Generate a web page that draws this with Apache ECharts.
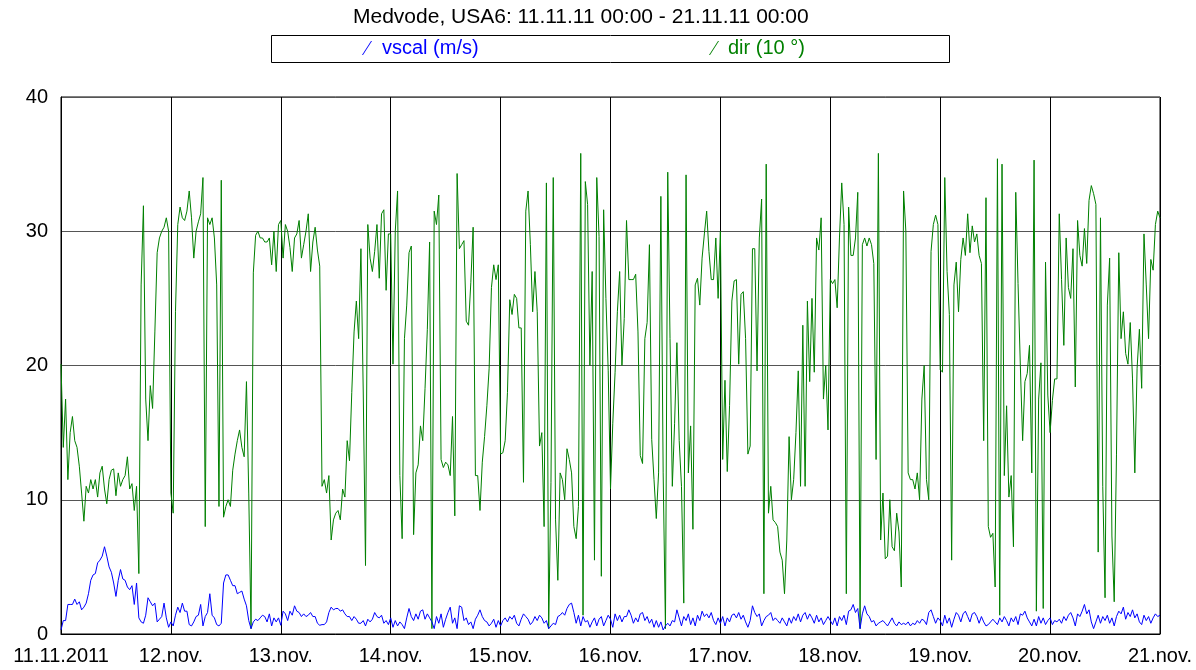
<!DOCTYPE html>
<html>
<head>
<meta charset="utf-8">
<script src="https://cdn.jsdelivr.net/npm/echarts@6/dist/echarts.min.js"></script>
<style>
html,body{margin:0;padding:0;background:#fff;}
#chart{width:1196px;height:670px;}
</style>
</head>
<body>
<div id="chart"></div>
<script>
// Tick labels (one per day boundary)
const dayLabels = ['11.11.2011','12.nov.','13.nov.','14.nov.','15.nov.','16.nov.','17.nov.','18.nov.','19.nov.','20.nov.','21.nov.'];
const titleText = 'Medvode, USA6: 11.11.11 00:00 - 21.11.11 00:00';
const seriesNames = ['vscal (m/s)', 'dir (10 °)'];
const stepHours = 0.5; // sampling step of the arrays below

// dir (10 °), every 30 minutes from 11.11.2011 00:00
const dir = [
 // 11.11
 20.1,13.9,17.5,11.5,15,16.2,14.4,13.9,12.5,10.5,8.4,11,10.5,11.5,10.8,11.5,10.2,12,12.5,10.8,9.7,11.5,12.2,12.3,
 10.3,12,11,11.5,11.8,13.2,10.8,11.2,9.2,11,4.5,26,31.9,17.5,14.4,18.5,16.8,22.5,28.4,29.5,30,30.3,31,30,
 // 12.11
 10.5,9,24,30.5,31.8,31,30.8,31.5,33,31,28,30,30.7,31.3,34,8,31,30.5,31,29.5,26,9.5,33.8,8.7,
 9.5,10,9.5,12.2,13.4,14.4,15.2,13.9,13.2,18.8,10.5,0.4,26.9,29.7,30,29.5,29.5,29.2,29.2,29.5,27.5,30,27,30.5,
 // 13.11
 30.8,28,30.5,30,28.8,27,29.5,29.8,30.8,28,29,30,31.3,27,29.2,30.3,28.6,27.4,11,11.5,10.5,11.8,7,8.5,
 9,9.2,8.5,10.8,10.2,14.4,12.9,18,22.5,24.8,22,28.7,18.1,5.1,30.5,28,27,28.5,30.5,26.5,31.3,31.6,25.6,29.8,
 // 14.11
 29.8,20.1,30,33,11.8,7.1,22,24.5,28.4,28.9,7.4,12,12.6,15.5,14.4,18.3,22.7,29.2,0.4,31.5,30.5,32.7,13,12.4,
 12.8,12.6,11.8,16.2,8.8,34.3,28.7,29,29.3,23.3,23,26.2,30.3,11.8,11.8,9.2,12.8,14.7,17,19.8,25.8,27.5,26.4,27.5,
 // 15.11
 13.4,13.5,14.4,18,24.9,23.8,25.3,25,22.8,22.8,11.3,31.5,33,29,24,27,24,14,15,8,33.6,0.4,11.3,34,
 8.5,4,12,11.5,10,13.8,13,12,8,7.1,9.5,35.8,1.4,33.7,32,20,27,5.5,34,29.6,4.3,31.6,25,19.6,
 // 16.11
 10.8,15.7,19.5,24,27,20,23.5,30.8,26.4,26.4,26.4,26.8,22.5,13.3,12.7,22,23.2,29,14.5,11.5,8.6,12,32.6,12,
 0.4,34.4,22,11,15.7,21.7,14.4,11,2.3,34.2,12,15.5,7.8,26,26.5,24.5,28,29.8,31.5,28.5,26.4,26.4,29.5,25,
 // 17.11
 30,13,18.9,12.1,17,24.8,26.3,26.4,20.1,25.3,25.5,22,13.4,14,28.7,28.7,19.6,29.5,32.4,3,35,9,11,8.5,
 8.3,8,6.1,5.5,3,7,14.7,10,11.5,15,19.6,11,23,11,24.8,18.8,25,19.5,29.5,28.6,31,17.5,20,15.2,
 // 18.11
 26.4,26.1,26.4,24.3,29.5,33.6,30.5,3,31.8,28.2,28.2,29.5,32.9,0.4,29,29.5,28.9,29.5,29,27.6,13,35.8,7,10.5,
 5.6,5.8,10,6.5,6.2,9,7.6,3.5,33,30,12,11.5,11.5,10.8,12,10,17.5,20,11.5,10,28.5,30.5,31.2,30.5,
 // 19.11
 19.7,19.5,34,27,23.8,5.5,26,27.7,24,27.9,29.5,28.2,31.3,28.4,30.4,29.2,29.8,28.2,27.6,14.4,32.5,8,7.2,7.5,
 3.5,35.4,1.4,35,11.8,17,10.2,11.8,6.5,32.9,26.1,20,14.4,18.8,19.4,21.5,12,35.3,1.7,17.5,20.2,1.9,27.7,17.8,
 // 20.11
 15,17.4,19,19,31.3,26.4,21.5,29.5,25.8,25,28.7,18.4,30.8,28.2,27.4,30.2,27.6,32.3,33.4,32.8,32,6.1,31,11,
 2.7,24.5,28,7.3,2.4,13.4,28.4,22,24,20.9,20.1,23.2,19,12,19.8,22.7,18.3,29.8,26,22,27.9,27.1,30.5,31.5,
 // 21.11 00:00
 31
];

// vscal (m/s), every 30 minutes from 11.11.2011 00:00
const vscal = [
 // 11.11
 0.3,1,1,2.2,2.2,2.2,2.6,2.2,2.4,1.8,2,2.3,3,4,4.4,4.5,5.3,5.5,5.8,6.5,5.8,5,4.6,3.8,
 2.8,4,4.8,4.1,4,3.5,3.3,3.6,2.2,3.8,1.2,0.9,0.8,1.4,2.7,2.4,2.1,2.3,0.9,1.1,1.3,2.3,1.2,0.5,
 // 12.11
 0.9,0.6,1.4,2,1.6,2.3,1.7,1.7,0.7,0.6,0.9,1.3,1.4,2.2,0.6,1.3,1.6,3,1.4,1.2,0.7,0.6,0.8,3.8,
 4.4,4.4,4,3.6,3.6,3,3.1,3.2,2.6,2.1,1,0.4,0.9,1.1,1,1.2,1.4,1.3,0.9,1.5,0.6,1.2,0.9,1.2,
 // 13.11
 0.65,1.7,1.5,1,1.7,1.4,2.1,1.7,1.6,1.3,1.5,1.3,1.4,1.6,1.3,1.3,0.8,0.65,0.7,0.7,0.9,1.6,2,1.8,
 1.9,1.9,1.7,1.8,1.5,1.3,1.3,1,1.3,1.1,0.8,0.8,1,0.6,1.1,0.9,1.1,1.6,1.3,1.2,1.4,0.8,1,0.7,
 // 14.11
 1.2,0.5,1,0.6,0.9,0.7,0.4,1.2,1.9,1.3,1,1.5,1.1,1.7,1.8,1.1,1.5,1.2,0.9,0.4,1.3,0.8,1.5,0.5,
 1.1,1.6,2,0.8,1.2,0.4,2.1,2,1,1.2,0.7,0.9,0.4,1.1,1.4,1.8,1.3,1,0.9,0.6,0.8,1.1,0.5,1,
 // 15.11
 0.6,1,1.2,0.9,1.3,1.1,1.4,0.8,0.6,1.1,1.5,1.3,1.1,0.7,0.9,1.3,1,1.4,1.2,0.8,1,0.4,0.6,0.8,
 0.7,1.3,1.4,1.6,1.4,1.9,2.2,2.3,1.6,0.8,1.4,0.6,1.3,0.9,1,0.5,0.9,1.2,0.6,1.1,1.3,0.6,1,1.4,
 // 16.11
 1.1,0.5,1.5,1,1.4,0.9,1.3,1.3,1.8,1.4,0.8,1.2,0.9,1.5,1.6,1,1.3,0.8,1.1,0.5,1,0.5,0.9,0.3,
 0.6,0.8,0.6,1,0.9,1.8,1.2,0.6,1.3,1,1.5,0.7,1.2,0.6,1.4,1,1.7,1.3,1.5,1.2,1.6,1,0.7,1.2,
 // 17.11
 0.8,1.3,0.6,1.2,0.9,1.4,1.5,1.2,1.6,1.1,1.4,0.9,0.5,1,2.1,1.6,1.3,1.5,0.6,1,1.3,1.4,1.6,1,
 1.2,1,0.8,1.2,0.9,0.6,1.2,0.8,1.3,1,1.5,0.9,1.4,1.6,1.1,1.5,1.2,0.8,1.4,0.9,1.2,0.7,1,1.3,
 // 18.11
 1,0.7,1.2,0.6,1.3,1,1.4,0.7,1.7,1.8,2.2,1.6,1.9,0.4,1.5,2.1,1.5,1.3,0.9,1,0.6,0.8,0.9,1,
 0.8,0.6,0.9,1.2,0.8,0.6,0.9,0.7,0.8,0.7,0.9,0.6,0.8,0.7,1,0.8,1.1,1,0.7,1.6,1.8,1.3,0.8,1.2,
 // 19.11
 1,0.6,1.4,0.8,1.2,0.5,1.1,1.6,1.4,0.9,1.5,1.7,1.3,0.9,1.5,1.6,1.3,0.8,1.3,0.9,0.6,0.7,0.9,1.1,
 0.9,0.7,1.2,0.9,1.3,1,0.6,1.2,0.9,1.3,0.7,1.5,1.4,1.7,1.2,0.9,0.6,1.1,0.6,1.3,0.8,1.2,0.7,1,
 // 20.11
 1.2,0.7,1,0.9,1.1,0.8,1.3,1,1.4,1.6,1.2,0.6,1.5,1.3,1.7,2.2,1.5,1.8,0.9,0.4,0.9,1.4,0.8,1.3,
 1,1.4,0.8,1.2,0.6,1.3,1.7,1.5,2,1.1,1.6,1.3,1.8,1.2,1.5,0.9,0.7,1.4,1,1.3,0.8,1.2,1.5,1.3,
 // 21.11 00:00
 1.4
];

const FONT = "'Liberation Sans', Arial, sans-serif";
const toPairs = arr => arr.map((v, i) => [i * stepHours, v]);
const totalHours = (dayLabels.length - 1) * 24;
const slashIcon = 'path://M9,0 L10,0 L1,14 L0,14 Z';

const chart = echarts.init(document.getElementById('chart'), null, {renderer: 'canvas'});
chart.setOption({
  animation: false,
  backgroundColor: '#ffffff',
  title: {
    text: titleText,
    left: 353, top: 7, padding: 0,
    textStyle: {fontFamily: FONT, fontSize: 21, fontWeight: 'normal', color: '#000'}
  },
  legend: [
    {
      data: [{name: seriesNames[0], textStyle: {color: '#0000ff'}}],
      left: 362, top: 38, padding: 0,
      itemWidth: 20, itemHeight: 14,
      icon: slashIcon,
      textStyle: {fontFamily: FONT, fontSize: 20},
      selectedMode: false
    },
    {
      data: [{name: seriesNames[1], textStyle: {color: '#008000'}}],
      left: 709, top: 38, padding: 0,
      itemWidth: 18, itemHeight: 14,
      icon: slashIcon,
      textStyle: {fontFamily: FONT, fontSize: 20},
      selectedMode: false
    }
  ],
  graphic: [{
    type: 'rect',
    shape: {x: 271.5, y: 35.5, width: 678, height: 27},
    style: {fill: null, stroke: '#000', lineWidth: 1},
    silent: true
  }],
  grid: {
    left: 61, top: 97, width: 1099, height: 537,
    show: true, borderColor: '#000', borderWidth: 1, backgroundColor: 'transparent'
  },
  xAxis: {
    type: 'value', min: 0, max: totalHours, interval: 24,
    axisLine: {show: true, lineStyle: {color: '#000', width: 1}},
    axisTick: {show: false},
    splitLine: {show: true, lineStyle: {color: '#000', width: 1}},
    axisLabel: {
      color: '#000', fontFamily: FONT, fontSize: 20, margin: 12,
      showMinLabel: true, showMaxLabel: true,
      formatter: v => dayLabels[Math.round(v / 24)] || ''
    }
  },
  yAxis: {
    type: 'value', min: 0, max: 40, interval: 10,
    axisLine: {show: true, lineStyle: {color: '#000', width: 1}},
    axisTick: {show: false},
    splitLine: {show: true, lineStyle: {color: '#555', width: 1}},
    axisLabel: {color: '#000', fontFamily: FONT, fontSize: 20, margin: 13}
  },
  series: [
    {
      name: seriesNames[0], type: 'line', data: toPairs(vscal),
      showSymbol: false, symbol: 'none', sampling: null, clip: true,
      lineStyle: {color: '#0000ff', width: 1}, itemStyle: {color: '#0000ff'},
      z: 3
    },
    {
      name: seriesNames[1], type: 'line', data: toPairs(dir),
      showSymbol: false, symbol: 'none', sampling: null, clip: true,
      lineStyle: {color: '#008000', width: 1}, itemStyle: {color: '#008000'},
      z: 2
    }
  ]
});
</script>
</body>
</html>
